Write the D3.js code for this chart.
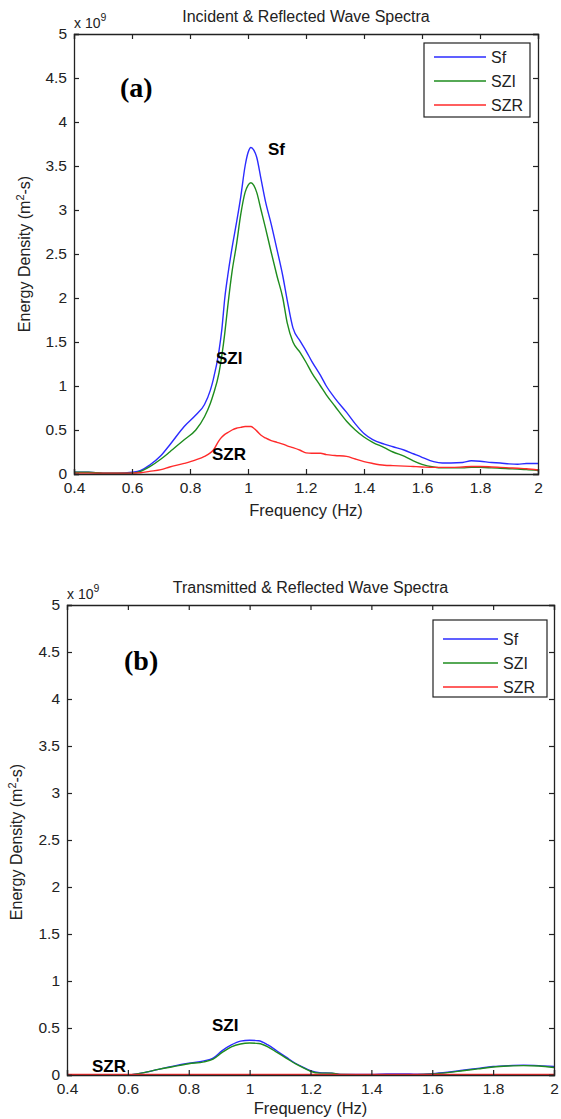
<!DOCTYPE html>
<html><head><meta charset="utf-8">
<script src="https://cdn.jsdelivr.net/npm/d3@7"></script>
<style>body{margin:0;background:#fff}svg{display:block}</style>
</head><body>
<script>
// ---- data (values in units of 1e9) ----
const freqA = [0.40,0.45,0.50,0.55,0.60,0.63,0.66,0.70,0.73,0.78,0.82,0.85,0.87,0.88,0.90,0.91,0.92,0.93,0.945,0.96,0.975,0.99,1.00,1.01,1.02,1.03,1.045,1.06,1.08,1.10,1.12,1.135,1.155,1.18,1.20,1.22,1.25,1.27,1.30,1.34,1.37,1.40,1.43,1.47,1.50,1.54,1.57,1.60,1.64,1.67,1.70,1.74,1.77,1.80,1.84,1.87,1.90,1.93,1.96,2.00];
const sfA  = [0.02,0.02,0.01,0.01,0.02,0.04,0.10,0.21,0.33,0.54,0.67,0.79,0.95,1.07,1.40,1.65,2.00,2.25,2.57,2.85,3.15,3.50,3.65,3.71,3.68,3.60,3.35,3.10,2.84,2.55,2.25,1.98,1.66,1.51,1.40,1.28,1.12,1.00,0.86,0.70,0.57,0.46,0.39,0.34,0.31,0.27,0.23,0.19,0.14,0.125,0.125,0.13,0.15,0.145,0.13,0.125,0.115,0.11,0.12,0.12];
const szA  = [0.02,0.02,0.01,0.01,0.01,0.03,0.08,0.17,0.25,0.39,0.50,0.65,0.80,0.90,1.15,1.35,1.60,1.90,2.30,2.60,2.95,3.20,3.28,3.31,3.28,3.20,3.00,2.80,2.52,2.25,2.00,1.72,1.50,1.38,1.27,1.15,1.00,0.90,0.77,0.60,0.50,0.42,0.36,0.30,0.25,0.20,0.15,0.11,0.08,0.07,0.07,0.07,0.075,0.075,0.07,0.065,0.06,0.055,0.05,0.04];
const srA  = [0.01,0.01,0.01,0.01,0.01,0.015,0.03,0.05,0.08,0.12,0.16,0.20,0.24,0.27,0.38,0.42,0.45,0.47,0.50,0.52,0.53,0.54,0.54,0.54,0.52,0.49,0.44,0.41,0.38,0.36,0.34,0.32,0.30,0.27,0.24,0.235,0.235,0.22,0.21,0.20,0.17,0.14,0.12,0.10,0.095,0.09,0.085,0.08,0.075,0.075,0.075,0.08,0.085,0.085,0.08,0.075,0.07,0.065,0.06,0.045];

const freqB = [0.40,0.50,0.60,0.63,0.66,0.70,0.75,0.80,0.85,0.88,0.91,0.94,0.97,1.00,1.03,1.06,1.09,1.12,1.15,1.18,1.20,1.23,1.27,1.30,1.40,1.45,1.50,1.55,1.60,1.65,1.70,1.75,1.80,1.85,1.90,1.95,2.00];
const sfB  = [0,0,0,0.01,0.03,0.06,0.095,0.125,0.15,0.18,0.26,0.32,0.36,0.37,0.365,0.32,0.255,0.19,0.125,0.075,0.045,0.025,0.02,0.005,0.005,0.012,0.012,0.008,0.015,0.03,0.05,0.07,0.09,0.10,0.105,0.10,0.09];
const szB  = [0,0,0,0.01,0.03,0.06,0.09,0.12,0.14,0.17,0.24,0.30,0.33,0.34,0.335,0.30,0.24,0.18,0.12,0.07,0.04,0.02,0.02,0.005,0,0,0,0.003,0.01,0.025,0.045,0.065,0.085,0.095,0.10,0.095,0.08];
const srB  = [0.005,0.005,0.005,0.005,0.005,0.005,0.005,0.005,0.005,0.005,0.005,0.005,0.005,0.005,0.005,0.005,0.005,0.005,0.005,0.005,0.005,0.005,0.005,0.005,0.005,0.005,0.005,0.005,0.005,0.005,0.005,0.005,0.005,0.005,0.005,0.005,0.005];

const xTicks = [0.4,0.6,0.8,1,1.2,1.4,1.6,1.8,2];
const yTicks = [0,0.5,1,1.5,2,2.5,3,3.5,4,4.5,5];
const seriesNames = ["Sf","SZI","SZR"];
const seriesColors = ["#2b2bff","#1e8c1e","#ff2a2a"];

const W = 561, H = 1119;
const svg = d3.select("body").append("svg").attr("width", W).attr("height", H);
const FONT = "'Liberation Sans', Arial, sans-serif";

function panel(cfg) {
  const {left, right, top, bottom, title, freq, series, letter, letterPos, notes, legend, ylabX, ylabY, tickPad, xlabOff} = cfg;
  const x = d3.scaleLinear().domain([0.4, 2]).range([left, right]);
  const y = d3.scaleLinear().domain([0, 5]).range([bottom, top]);
  const g = svg.append("g");

  series.forEach((vals, i) => {
    const line = d3.line().x((d, j) => x(freq[j])).y(d => y(d)).curve(d3.curveMonotoneX);
    g.append("path").datum(vals).attr("d", line).attr("fill", "none")
      .attr("stroke", seriesColors[i]).attr("stroke-width", 1.4);
  });

  const tl = 5;
  const axB = d3.axisBottom(x).tickValues(xTicks).tickSize(-tl).tickPadding(tickPad).tickFormat(d3.format("~g"));
  const axT = d3.axisTop(x).tickValues(xTicks).tickSize(-tl).tickFormat("");
  const axL = d3.axisLeft(y).tickValues(yTicks).tickSize(-tl).tickPadding(7).tickFormat(d3.format("~g"));
  const axR = d3.axisRight(y).tickValues(yTicks).tickSize(-tl).tickFormat("");
  const gb = g.append("g").attr("transform", `translate(0,${bottom})`).call(axB);
  const gt = g.append("g").attr("transform", `translate(0,${top})`).call(axT);
  const gl = g.append("g").attr("transform", `translate(${left},0)`).call(axL);
  const gr = g.append("g").attr("transform", `translate(${right},0)`).call(axR);
  [gb, gt, gl, gr].forEach(a => {
    a.select(".domain").attr("stroke", "#222").attr("stroke-width", 1.3);
    a.selectAll(".tick line").attr("stroke", "#222").attr("stroke-width", 1.2);
    a.selectAll("text").attr("font-family", FONT).attr("font-size", 15.5).attr("fill", "#222");
  });

  g.append("text").attr("x", (left + right) / 2).attr("y", top - 12).attr("text-anchor", "middle")
    .attr("font-family", FONT).attr("font-size", 16).attr("fill", "#222").text(title);
  const ex = g.append("text").attr("x", left).attr("y", top - 6).attr("font-family", FONT)
    .attr("font-size", 14).attr("fill", "#222");
  ex.append("tspan").text("x 10");
  ex.append("tspan").attr("dy", -7).attr("font-size", 10.5).text("9");
  g.append("text").attr("x", (left + right) / 2).attr("y", bottom + xlabOff).attr("text-anchor", "middle")
    .attr("font-family", FONT).attr("font-size", 16.5).attr("fill", "#222").text("Frequency (Hz)");
  const yl = g.append("text").attr("transform", `translate(${ylabX},${ylabY}) rotate(-90)`)
    .attr("text-anchor", "middle").attr("font-family", FONT).attr("font-size", 16).attr("fill", "#222");
  yl.append("tspan").text("Energy Density (m");
  yl.append("tspan").attr("dy", -6).attr("font-size", 11).text("2");
  yl.append("tspan").attr("dy", 6).text("-s)");

  g.append("text").attr("x", letterPos[0]).attr("y", letterPos[1]).attr("font-family", "'Liberation Serif', 'Times New Roman', serif")
    .attr("font-weight", "bold").attr("font-size", 28).attr("fill", "#000").text(letter);

  notes.forEach(n => {
    g.append("text").attr("x", n[1]).attr("y", n[2]).attr("font-family", FONT).attr("font-weight", "bold")
      .attr("font-size", 17).attr("fill", "#000").text(n[0]);
  });

  const lg = g.append("g");
  lg.append("rect").attr("x", legend.x).attr("y", legend.y).attr("width", legend.w).attr("height", legend.h)
    .attr("fill", "#fff").attr("stroke", "#222").attr("stroke-width", 1.2);
  seriesNames.forEach((s, i) => {
    const yy = legend.y + legend.first + i * legend.step;
    lg.append("line").attr("x1", legend.x + 10).attr("x2", legend.x + legend.lineW + 10).attr("y1", yy).attr("y2", yy)
      .attr("stroke", seriesColors[i]).attr("stroke-width", 1.4);
    lg.append("text").attr("x", legend.x + legend.lineW + 15).attr("y", yy + 6).attr("font-family", FONT)
      .attr("font-size", 16).attr("fill", "#222").text(s);
  });
}

panel({
  left: 74, right: 538, top: 34, bottom: 474,
  title: "Incident & Reflected Wave Spectra",
  freq: freqA, series: [sfA, szA, srA],
  letter: "(a)", letterPos: [120, 97],
  notes: [["Sf", 268, 155], ["SZI", 216, 364], ["SZR", 212, 460]],
  legend: {x: 424, y: 43, w: 106, h: 74, first: 14, step: 24, lineW: 52},
  ylabX: 30, ylabY: 254, tickPad: 8, xlabOff: 42
});

panel({
  left: 67, right: 554, top: 605, bottom: 1075,
  title: "Transmitted & Reflected Wave Spectra",
  freq: freqB, series: [sfB, szB, srB],
  letter: "(b)", letterPos: [124, 670],
  notes: [["SZI", 212, 1031], ["SZR", 92, 1072]],
  legend: {x: 433, y: 620, w: 114, h: 77, first: 19, step: 24, lineW: 55},
  ylabX: 22, ylabY: 842, tickPad: 8, xlabOff: 39
});
</script>
</body></html>
